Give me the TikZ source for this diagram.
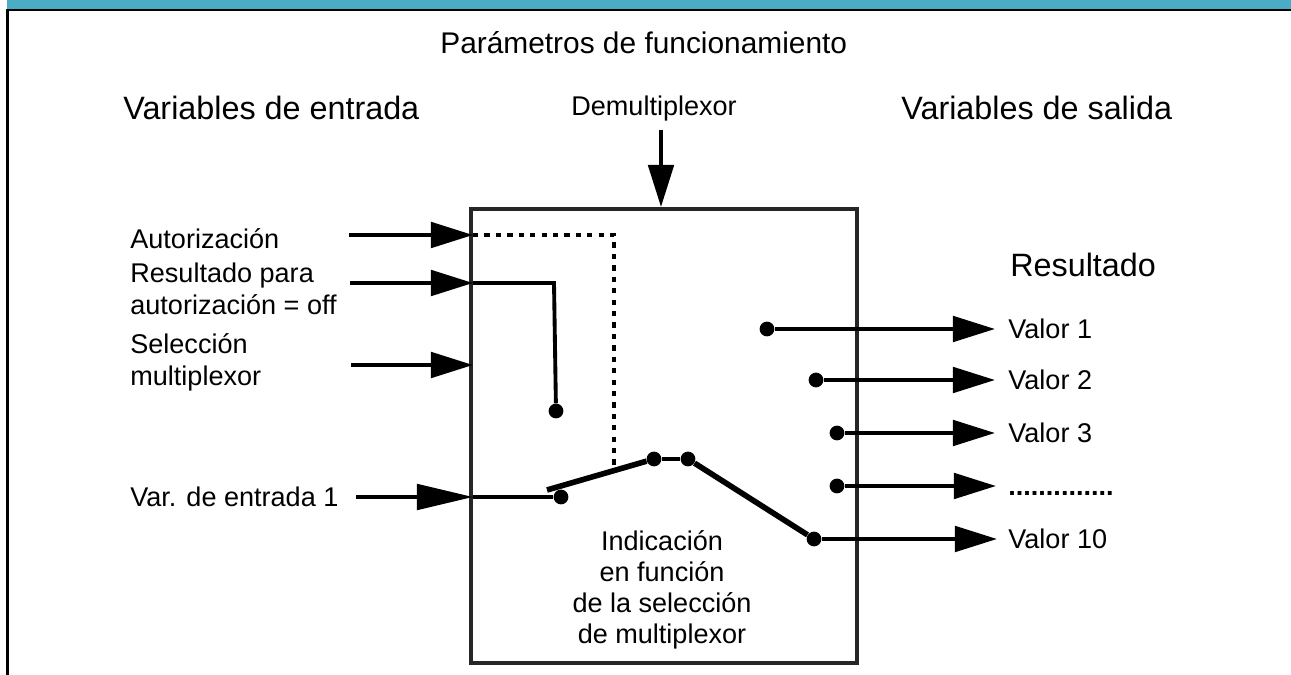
\documentclass[tikz,border=0pt]{standalone}
\usepackage{fontspec}
\setmainfont{Liberation Sans}
\usetikzlibrary{arrows.meta}

\begin{document}
\begin{tikzpicture}[x=0.02cm,y=-0.02cm,
    big/.style={inner sep=0pt,anchor=base west,font=\fontsize{18.4}{22}\selectfont},
    small/.style={inner sep=0pt,anchor=base west,font=\fontsize{15.4}{18}\selectfont},
    dot/.style={circle,fill=black,inner sep=0pt,minimum size=8.4pt},
    wire/.style={line width=2.2pt},
    sig/.style={wire,-{Triangle[length=24pt,width=14.5pt]}},
    thickwire/.style={line width=3.2pt}]

    % Fix the page size
    \useasboundingbox (0,0) rectangle (1291,675);

    % Top band and the outer border
    \fill[fill={rgb,255:red,75;green,172;blue,198}] (7,0) rectangle (1291,9);
    \draw[line width=1.6pt] (1291,10) -- (7.5,10) -- (7.5,675);

    % The block
    \draw[line width=1.9pt,draw=black!85] (471,209) rectangle (857,663);

    % Headings
    \node[inner sep=0pt,anchor=base west,font=\fontsize{17}{20}\selectfont] (params) at (440,54) {Parámetros de funcionamiento};
    \node[big] (inputs) at (123,120) {Variables de entrada};
    \node[big] (outputs) at (901,120) {Variables de salida};
    \node[small] (demux) at (571,116) {Demultiplexor};
    \node[big] (result) at (1010,277) {Resultado};

    % Input labels
    \node[small] (auth) at (130,249) {Autorización};
    \node[small] (res1) at (130,283) {Resultado para};
    \node[small] (res2) at (130,315) {autorización = off};
    \node[small] (sel1) at (130,354) {Selección};
    \node[small] (sel2) at (130,385) {multiplexor};
    \node[small] (var) at (130,506) {Var. de entrada 1};

    % Output labels
    \node[small] (val1) at (1008,338) {Valor 1};
    \node[small] (val2) at (1008,389) {Valor 2};
    \node[small] (val3) at (1008,442) {Valor 3};
    \node[small] (valn) at (1008,495) {\textbf{..............}};
    \node[small] (val10) at (1008,548) {Valor 10};

    % Text inside the block
    \node[small,anchor=base] (ind1) at (662,550) {Indicación};
    \node[small,anchor=base] (ind2) at (662,581) {en función};
    \node[small,anchor=base] (ind3) at (662,612) {de la selección};
    \node[small,anchor=base] (ind4) at (662,643) {de multiplexor};

    % Contacts
    \node[dot] (offpin) at (556,411) {};
    \node[dot] (inpin) at (561,497) {};
    \node[dot] (armA) at (654,459) {};
    \node[dot] (armB) at (688,459) {};
    \node[dot] (out1) at (767,329) {};
    \node[dot] (out2) at (816,380) {};
    \node[dot] (out3) at (837,433) {};
    \node[dot] (out4) at (837,486) {};
    \node[dot] (out10) at (814,539) {};

    % Free ends of the arrows
    \coordinate (demuxS) at (661,130);
    \coordinate (demuxT) at (661,207);
    \coordinate (authS) at (349,235);
    \coordinate (authT) at (473,235);
    \coordinate (resS) at (350,283);
    \coordinate (resT) at (473,283);
    \coordinate (selS) at (351,365);
    \coordinate (selT) at (473,365);
    \coordinate (varS) at (356,497);
    \coordinate (varT) at (473,497);
    \coordinate (tip1) at (995,329);
    \coordinate (tip2) at (995,380);
    \coordinate (tip3) at (995,433);
    \coordinate (tip4) at (996,486);
    \coordinate (tip10) at (997,539);
    \coordinate (armS) at (547,490);
    \coordinate (dashC) at (614,235);
    \coordinate (dashE) at (614,466);
    \coordinate (resC) at (554,283);

    % Arrows
    \draw[sig] (demuxS) -- (demuxT);
    \draw[sig] (authS) -- (authT);
    \draw[sig] (resS) -- (resT);
    \draw[sig] (selS) -- (selT);
    \draw[wire,-{Triangle[length=32pt,width=14.5pt]}] (varS) -- (varT);
    \draw[sig] (out1) -- (tip1);
    \draw[sig] (out2) -- (tip2);
    \draw[sig] (out3) -- (tip3);
    \draw[sig] (out4) -- (tip4);
    \draw[sig] (out10) -- (tip10);

    % Wires inside the block
    \draw[wire] (resT) -- (resC) -- (offpin);
    \draw[wire] (varT) -- (inpin);
    \draw[line width=1.8pt,dash pattern=on 3pt off 3.5pt] (authT) -- (dashC) -- (dashE);

    % The switch arm
    \draw[thickwire] (armS) -- (armA);
    \draw[wire] (armA) -- (armB);
    \draw[thickwire] (armB) -- (out10);

\end{tikzpicture}
\end{document}
